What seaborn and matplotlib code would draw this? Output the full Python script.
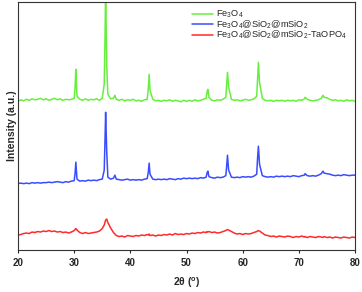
import matplotlib
matplotlib.use("Agg")
import matplotlib.pyplot as plt
import seaborn as sns
import pandas as pd

# 2theta positions (deg), shared by all three patterns
two_theta = [
    20.0, 20.5, 21.0, 21.5, 22.0, 22.5, 23.0, 23.5, 24.0, 24.5,
    25.0, 25.5, 26.0, 26.5, 27.0, 27.5, 28.0, 28.5, 29.0, 29.5,
    30.0, 30.15, 30.3, 30.4, 30.5, 31.0, 31.5, 32.0, 32.5, 33.0,
    33.5, 34.0, 34.5, 35.0, 35.35, 35.5, 35.6, 35.8, 36.0, 36.5,
    37.0, 37.25, 37.5, 38.0, 38.5, 39.0, 39.5, 40.0, 40.5, 41.0,
    41.5, 42.0, 42.5, 43.0, 43.2, 43.35, 43.5, 44.0, 44.5, 45.0,
    45.5, 46.0, 46.5, 47.0, 47.5, 48.0, 48.5, 49.0, 49.5, 50.0,
    50.5, 51.0, 51.5, 52.0, 52.5, 53.0, 53.5, 53.65, 53.8, 54.0,
    54.5, 55.0, 55.5, 56.0, 56.5, 57.0, 57.15, 57.3, 57.5, 58.0,
    58.5, 59.0, 59.5, 60.0, 60.5, 61.0, 61.5, 62.0, 62.5, 62.65,
    62.8, 63.0, 63.5, 64.0, 64.5, 65.0, 65.5, 66.0, 66.5, 67.0,
    67.5, 68.0, 68.5, 69.0, 69.5, 70.0, 70.5, 71.0, 71.1, 71.5,
    72.0, 72.5, 73.0, 73.5, 74.0, 74.3, 74.5, 75.0, 75.5, 76.0,
    76.5, 77.0, 77.5, 78.0, 78.5, 79.0, 79.5, 80.0,
]

# intensities (a.u., stacked offsets as drawn)
fe3o4 = [
    149, 150.5, 149.5, 151, 150, 151.5, 150.5, 151, 152, 150.5,
    151.5, 150, 151, 152, 150.5, 151.5, 150, 151, 150.5, 151,
    152, 162, 181, 166, 154, 151, 150, 151.5, 150, 151,
    150.5, 151.5, 150, 152, 166, 215, 262, 185, 156, 151.5,
    152, 155, 151, 150, 151, 149.5, 150.5, 150, 151, 149.5,
    150, 149, 150.5, 151, 162, 176, 160, 151, 149.5, 150,
    149, 150, 149.5, 150.5, 149, 150, 149.5, 148.5, 150, 149,
    150, 149, 150.5, 149.5, 150, 151, 152, 158, 161, 153,
    150, 149.5, 150.5, 150, 151, 153, 166, 178, 163, 151,
    150, 150.5, 149.5, 150, 151, 150, 150.5, 151.5, 154, 172,
    188, 168, 152, 150, 149.5, 150, 149, 150, 149.5, 150,
    149, 150, 149.5, 150, 149, 150.5, 150, 151.5, 153, 151,
    150, 149.5, 150, 150.5, 152, 155, 153, 152.5, 151, 150,
    150.5, 149.5, 150, 149, 150.5, 149.5, 150, 149,
]

fe3o4_sio2_msio2 = [
    66.5, 67, 66.5, 67, 66.5, 67.5, 67, 67.5, 67, 67.5,
    67.5, 68, 67.5, 68, 68.5, 68, 67.5, 68.5, 68, 69,
    69.5, 76, 88, 80, 71, 69, 69.5, 69, 70, 69.5,
    70, 69.5, 70.5, 71, 80, 112, 138, 98, 73, 71,
    72, 75, 71, 70.5, 70, 70.5, 71, 70, 70.5, 70,
    70.5, 70, 71, 71.5, 78, 87, 76, 71, 70.5, 71,
    70.5, 71, 70.5, 71.5, 71, 70.5, 71.5, 71, 72, 71.5,
    72, 71.5, 72, 71.5, 72.5, 72, 73, 77, 79, 73.5,
    72.5, 72, 73, 72.5, 73, 74.5, 84, 95, 80, 73,
    72.5, 73, 72.5, 73.5, 73, 73.5, 73, 74, 76, 92,
    104, 86, 74.5, 73.5, 73, 73.5, 73, 74, 73.5, 74,
    73.5, 74, 73.5, 74.5, 74, 73.5, 74.5, 75, 76.5, 74.5,
    74, 74.5, 74, 75, 76.5, 79, 77, 76.5, 76, 75,
    74.5, 75, 74.5, 75.5, 75, 74.5, 75, 75,
]

fe3o4_taopo4 = [
    15, 15.5, 16.5, 17, 16.5, 18, 17.5, 18.5, 18, 19,
    18.5, 19.5, 18.5, 19, 18, 18.5, 17.5, 18, 17, 18,
    19.5, 20.5, 21.5, 21, 20, 17.5, 16.5, 17.5, 16.5, 17,
    17.5, 18, 19, 21.5, 25, 28, 30, 31, 27.5, 22,
    17.5, 16, 14.5, 13.5, 14, 13, 14.5, 14, 13.5, 14.5,
    14, 15, 14.5, 15.5, 15, 16, 14.5, 15, 14, 15,
    14.5, 15.5, 15, 16, 15, 16.5, 15.5, 16, 15.5, 16.5,
    16, 17, 16.5, 17.5, 17, 18, 17.5, 18.5, 18, 18.5,
    17.5, 18, 17, 17.5, 18.5, 19.5, 20, 20.5, 20, 18.5,
    17, 16, 16.5, 15.5, 16.5, 16, 16.5, 17.5, 18.5, 19,
    19.5, 19, 17, 15, 14.5, 13.5, 14, 13, 14, 13.5,
    13, 14, 13.5, 12.5, 13.5, 13, 14, 13, 13.5, 12.5,
    13.5, 13, 12.5, 13.5, 13, 12.5, 13.5, 12.5, 13, 12,
    13, 12.5, 12, 13, 12.5, 12, 13, 12.5,
]

labels = [
    r"Fe$_3$O$_4$",
    r"Fe$_3$O$_4$@SiO$_2$@mSiO$_2$",
    r"Fe$_3$O$_4$@SiO$_2$@mSiO$_2$-TaOPO$_4$",
]
colors = ["#66f03c", "#3a4cff", "#ff2a2a"]

frames = []
for lab, vals in zip(labels, [fe3o4, fe3o4_sio2_msio2, fe3o4_taopo4]):
    frames.append(pd.DataFrame({"two_theta": two_theta, "intensity": vals, "sample": lab}))
df = pd.concat(frames, ignore_index=True)

sns.set_style("white")
plt.rcParams["font.family"] = ["Liberation Sans", "DejaVu Sans"]
plt.rcParams["mathtext.fontset"] = "custom"
plt.rcParams["mathtext.rm"] = "Liberation Sans"
plt.rcParams["mathtext.it"] = "Liberation Sans:italic"
plt.rcParams["mathtext.bf"] = "Liberation Sans:bold"

fig = plt.figure(figsize=(3.62, 2.92), dpi=100)
ax = fig.add_axes([18 / 362, 42 / 292, 337 / 362, 248.5 / 292])

sns.lineplot(data=df, x="two_theta", y="intensity", hue="sample",
             hue_order=labels, palette=dict(zip(labels, colors)),
             linewidth=1.1, sort=True, ax=ax)

ax.set_xlim(20, 80)
ax.set_ylim(0, 249)
ax.set_xticks([20, 30, 40, 50, 60, 70, 80])
ax.set_yticks([])
ax.tick_params(axis="x", direction="out", length=2.5, width=0.8, pad=3,
               labelsize=7, bottom=True)
for t in ax.get_xticklabels():
    t.set_fontweight("bold")
for sp in ax.spines.values():
    sp.set_color("#333333")
    sp.set_linewidth(0.8)

ax.set_xlabel(r"2θ ($\mathbf{^o}$)", fontsize=7.5, fontweight="bold", labelpad=6)
ax.set_ylabel("Intensity (a.u.)", fontsize=7.5, fontweight="bold", labelpad=1)

ax.legend(loc="upper left", bbox_to_anchor=(0.515, 0.97), frameon=False,
          fontsize=6.7, handlelength=2.3, handletextpad=0.3,
          labelspacing=-0.22, borderpad=0, borderaxespad=0)

fig.savefig("out.png", dpi=100)
